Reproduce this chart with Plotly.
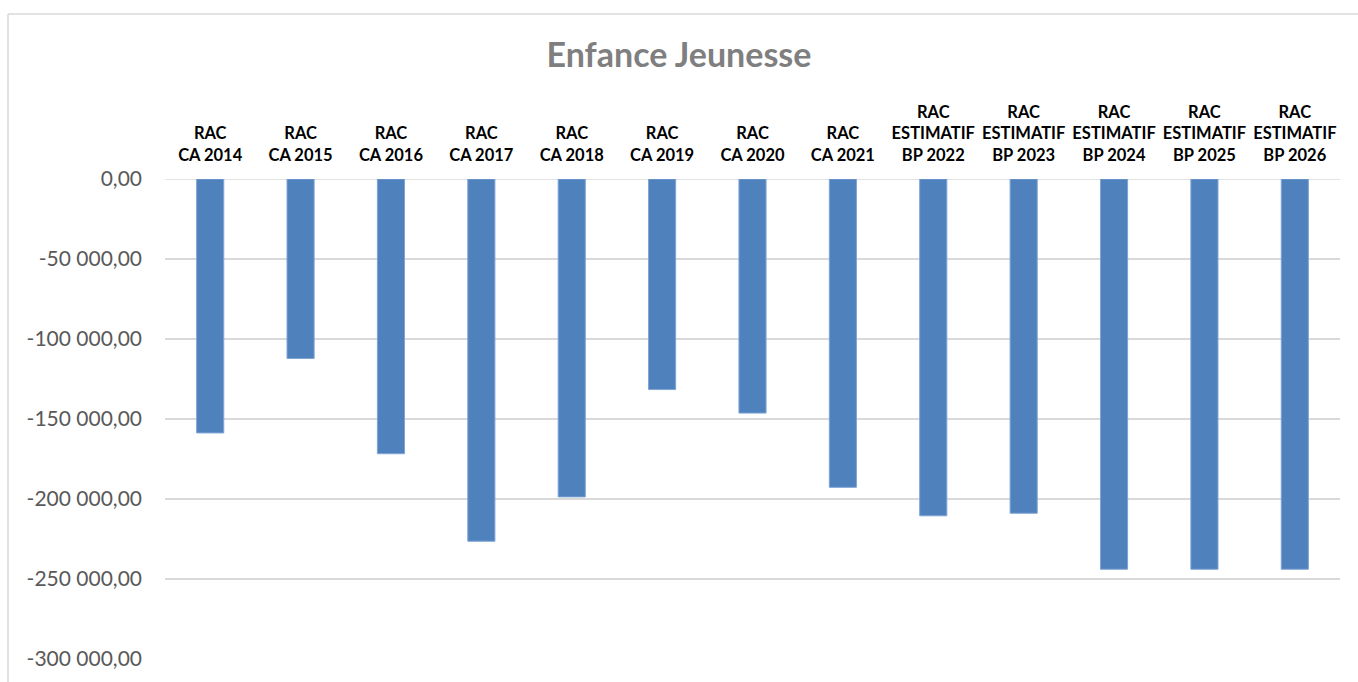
import plotly.graph_objects as go

categories = [
    "RAC<br>CA 2014", "RAC<br>CA 2015", "RAC<br>CA 2016", "RAC<br>CA 2017",
    "RAC<br>CA 2018", "RAC<br>CA 2019", "RAC<br>CA 2020", "RAC<br>CA 2021",
    "RAC<br>ESTIMATIF<br>BP 2022", "RAC<br>ESTIMATIF<br>BP 2023",
    "RAC<br>ESTIMATIF<br>BP 2024", "RAC<br>ESTIMATIF<br>BP 2025",
    "RAC<br>ESTIMATIF<br>BP 2026",
]
values = [-158700, -112200, -171700, -226400, -198700, -131600, -146300,
          -192700, -210500, -208900, -243900, -243900, -243900]
y_tick_vals = [0, -50000, -100000, -150000, -200000, -250000, -300000]
y_tick_text = ["0,00", "-50 000,00", "-100 000,00", "-150 000,00",
               "-200 000,00", "-250 000,00", "-300 000,00"]

W, H = 1358, 682
ml, mr, mt, mb = 165, 18, 179, 17
pw, ph = W - ml - mr, H - mt - mb

fig = go.Figure(go.Bar(
    x=categories, y=values, width=0.3,
    marker=dict(color="#4f81bd", line=dict(color="#7ea4d6", width=1)),
))

fig.update_layout(
    width=W, height=H,
    margin=dict(l=ml, r=mr, t=mt, b=mb),
    paper_bgcolor="white", plot_bgcolor="white",
    showlegend=False,
    title=dict(text="<b>Enfance Jeunesse</b>", x=0.5, xanchor="center",
               y=1 - 55 / H, yanchor="middle",
               font=dict(family="Lato", size=34, color="#7f7f7f")),
    xaxis=dict(side="top", showgrid=False, showline=False, zeroline=False,
               tickfont=dict(family="Lato", size=16.5, color="black", weight="bold"),
               tickangle=0, ticks="", ticklabelstandoff=14),
    yaxis=dict(range=[-300000, 0], tickvals=y_tick_vals, ticktext=y_tick_text,
               showgrid=True, gridcolor="#d9d9d9", gridwidth=1.5,
               zeroline=False, showline=False,
               tickfont=dict(family="Lato", size=21, color="#595959"),
               ticklabelstandoff=22),
    shapes=[
        dict(type="line", xref="paper", yref="paper",
             x0=(8 - ml) / pw, x1=(W + 10 - ml) / pw,
             y0=1 + (mt - 12) / ph, y1=1 + (mt - 12) / ph,
             line=dict(color="#d9d9d9", width=1.5)),
        dict(type="line", xref="paper", yref="paper",
             x0=(8 - ml) / pw, x1=(8 - ml) / pw,
             y0=1 + (mt - 12) / ph, y1=-mb / ph - 0.05,
             line=dict(color="#d9d9d9", width=1.5)),
        dict(type="line", xref="paper", yref="y",
             x0=0, x1=1, y0=0, y1=0,
             line=dict(color="#d9d9d9", width=1.5), layer="below"),
    ],
)

fig.write_html("out.html", config={"displayModeBar": False},
               post_script="document.body.style.margin='0';document.body.style.overflow='hidden';")
